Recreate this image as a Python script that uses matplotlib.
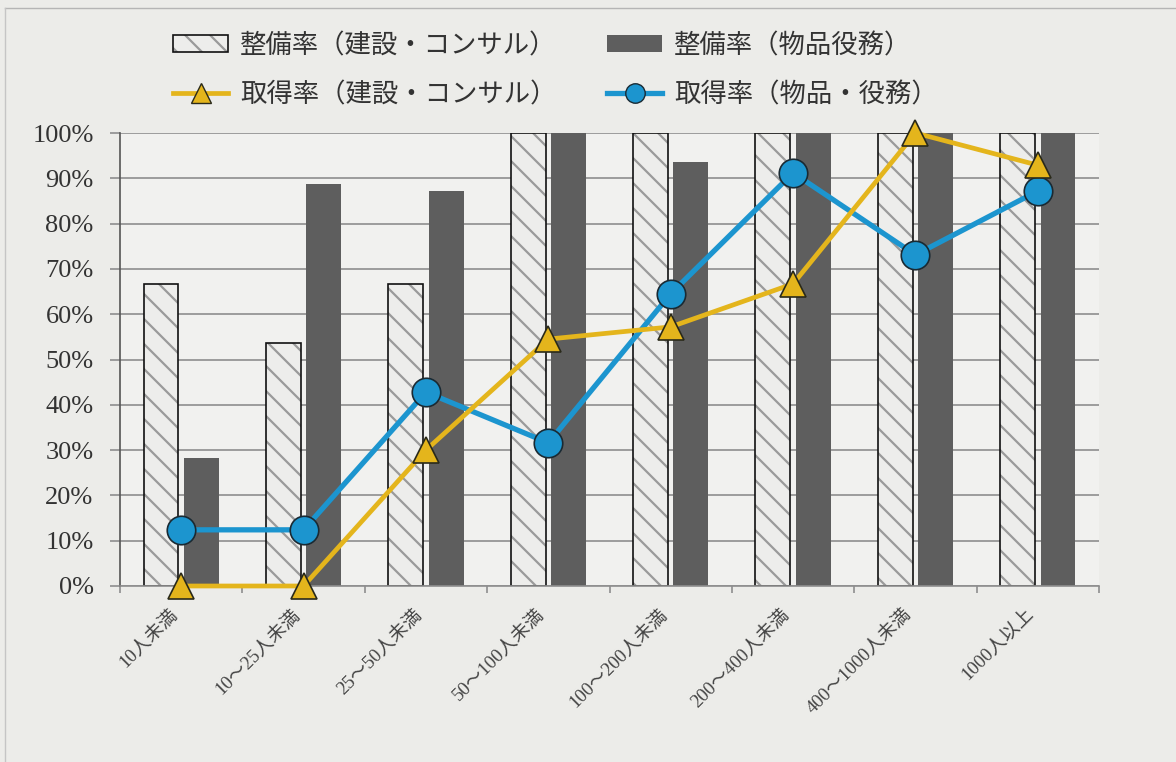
import numpy as np
import matplotlib
matplotlib.use('Agg')
import matplotlib.pyplot as plt
import matplotlib.patches as mpatches
from matplotlib.lines import Line2D
from matplotlib.ticker import PercentFormatter

# rendered at 150 dpi so the hatch spacing matches; k turns "100-dpi points" into real points
DPI = 150
k = 100 / DPI

plt.rcParams['font.family'] = ['Liberation Serif', 'Noto Sans CJK JP', 'DejaVu Sans']
plt.rcParams['hatch.color'] = '#9a9a9a'
plt.rcParams['hatch.linewidth'] = 1.6 * k

categories = ['10人未満', '10～25人未満', '25～50人未満', '50～100人未満',
              '100～200人未満', '200～400人未満', '400～1000人未満', '1000人以上']
seibi_kensetsu = [0.667, 0.536, 0.667, 1.0, 1.0, 1.0, 1.0, 1.0]
seibi_buppin = [0.283, 0.887, 0.872, 1.0, 0.936, 1.0, 1.0, 1.0]
shutoku_kensetsu = [0.0, 0.0, 0.30, 0.545, 0.572, 0.667, 1.0, 0.929]
shutoku_buppin = [0.124, 0.124, 0.428, 0.316, 0.645, 0.912, 0.731, 0.872]

labels = ['整備率（建設・コンサル）', '整備率（物品役務）',
          '取得率（建設・コンサル）', '取得率（物品・役務）']

bg = '#ecece9'
fig = plt.figure(figsize=(1176 / DPI, 762 / DPI), dpi=DPI, facecolor=bg)
ax = fig.add_axes([120/1176, 1-586/762, 979/1176, 453/762])
ax.set_facecolor('#f1f1ef')

x = np.arange(len(categories))
w = 0.285
off = 0.165

ax.bar(x - off, seibi_kensetsu, w, color='#ededeb', hatch='\\\\', linewidth=0, zorder=2)
ax.bar(x - off, seibi_kensetsu, w, fill=False, edgecolor='#111111', linewidth=1.2*k, zorder=2.1)
ax.bar(x + off, seibi_buppin, w, color='#5e5e5e', linewidth=0, zorder=2)

ax.plot(x, shutoku_buppin, color='#1c95cf', lw=3.8*k, marker='o', ms=20.5*k,
        mfc='#1c95cf', mec='#1a2a33', mew=1.2*k, zorder=4, clip_on=False)
ax.plot(x, shutoku_kensetsu, color='#e4b51c', lw=3.4*k, marker='^', ms=19*k,
        mfc='#e4b51c', mec='#2a2a1a', mew=1.2*k, zorder=5, clip_on=False)

ax.set_xlim(-0.5, len(categories) - 0.5)
ax.set_ylim(0, 1)
ax.set_yticks(np.arange(0, 1.01, 0.1))
ax.yaxis.set_major_formatter(PercentFormatter(1.0, decimals=0))
ax.yaxis.grid(True, color='#8e8e8e', lw=1.2*k)
ax.set_axisbelow(True)
ax.tick_params(axis='y', length=7*k, color='#8e8e8e', width=1.2*k, pad=12*k,
               labelsize=19*k, labelcolor='#333333')

ax.set_xticks(x)
ax.set_xticklabels(categories, rotation=45, ha='right', fontsize=13.5*k, color='#444444')
ax.tick_params(axis='x', length=0, pad=14*k)
ax.set_xticks(np.arange(len(categories) + 1) - 0.5, minor=True)
ax.tick_params(axis='x', which='minor', length=5*k, color='#8e8e8e', width=1.2*k)

for s in ['top', 'right']:
    ax.spines[s].set_visible(False)
ax.spines['left'].set_color('#555555')
ax.spines['left'].set_linewidth(1.2*k)
ax.spines['bottom'].set_color('#8e8e8e')
ax.spines['bottom'].set_linewidth(1.2*k)

h1 = (mpatches.Patch(facecolor='#ededeb', hatch='\\\\', linewidth=0),
      mpatches.Patch(fill=False, edgecolor='#111111', linewidth=1.2*k))
h2 = mpatches.Patch(facecolor='#5e5e5e', linewidth=0)
h3 = Line2D([], [], color='#e4b51c', lw=3.4*k, marker='^', ms=14*k, mfc='#e4b51c', mec='#2a2a1a', mew=1.0*k)
h4 = Line2D([], [], color='#1c95cf', lw=3.8*k, marker='o', ms=14*k, mfc='#1c95cf', mec='#1a2a33', mew=1.0*k)
# ncol=2 fills column-wise, so order hatched, yellow | dark, blue
fig.legend([h1, h3, h2, h4], [labels[0], labels[2], labels[1], labels[3]], ncol=2,
           loc='upper left', bbox_to_anchor=(173/1176, 1-33/762), frameon=False,
           fontsize=19*k, handlelength=2.1, handleheight=0.6, handletextpad=0.45,
           columnspacing=1.9, labelspacing=0.9, borderpad=0, borderaxespad=0,
           labelcolor='#333333')

# scan border
fig.add_artist(Line2D([5/1176, 1], [1-8/762, 1-8/762], color='#b5b5b5', lw=1*k))
fig.add_artist(Line2D([5/1176, 5/1176], [0, 1-8/762], color='#c5c5c5', lw=1*k))

fig.savefig('out.png', dpi=DPI, facecolor=bg)
